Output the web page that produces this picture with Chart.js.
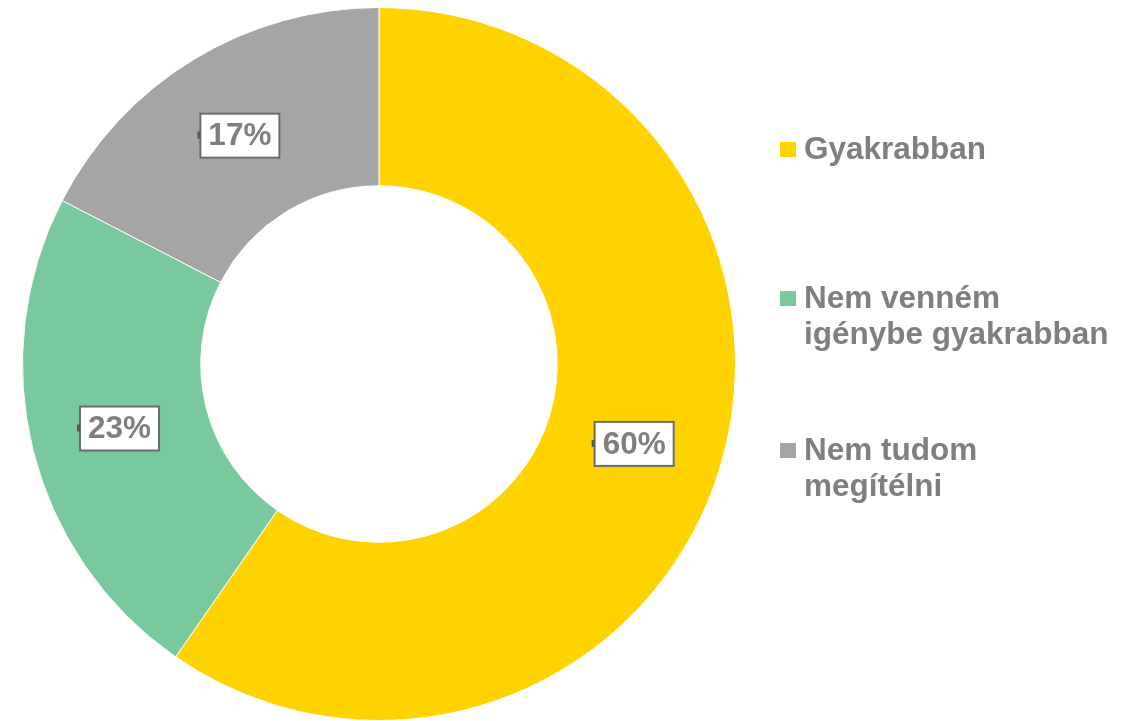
<!DOCTYPE html>
<html>
<head>
<meta charset="utf-8">
<script src="https://cdn.jsdelivr.net/npm/chart.js@4/dist/chart.umd.min.js"></script>
<style>
    html, body { margin: 0; padding: 0; background: #ffffff; }
    #wrap { width: 1139px; height: 721px; position: relative; }
</style>
</head>
<body>
<div id="wrap"><canvas id="donutChart"></canvas></div>
<script>
// ============ Data ============
const categories = ['Gyakrabban', 'Nem venném igénybe gyakrabban', 'Nem tudom megítélni'];
const legendLines = [['Gyakrabban'], ['Nem venném', 'igénybe gyakrabban'], ['Nem tudom', 'megítélni']];
const shares = [59.6, 22.9, 17.4];
const sliceColors = ['#FFD300', '#78C99E', '#A5A5A5'];

// ============ Style ============
const TEXT_COLOR = '#7F7F7F';
const FONT = 'bold 31.5px "Liberation Sans", Arial, sans-serif';

// ============ Plugins ============
// boxed percentage labels at the middle of each slice
const boxLabels = {
    id: 'boxLabels',
    afterDatasetsDraw(chart) {
        const { ctx } = chart;
        const meta = chart.getDatasetMeta(0);
        const total = shares.reduce((a, b) => a + b, 0);
        ctx.save();
        ctx.font = FONT;
        ctx.textAlign = 'center';
        ctx.textBaseline = 'middle';
        meta.data.forEach((arc, i) => {
            const { x, y } = arc.tooltipPosition();
            const text = Math.round(shares[i] / total * 100) + '%';
            const w = ctx.measureText(text).width + 16;
            const h = 44;
            ctx.fillStyle = '#ffffff';
            ctx.fillRect(x - w / 2, y - h / 2, w, h);
            ctx.lineWidth = 2;
            ctx.strokeStyle = '#6B6B6B';
            ctx.strokeRect(x - w / 2, y - h / 2, w, h);
            // small leader stub on the left edge
            ctx.fillStyle = '#595959';
            ctx.fillRect(x - w / 2 - 3, y - 4, 3, 7);
            ctx.fillStyle = TEXT_COLOR;
            ctx.fillText(text, x, y + 1);
        });
        ctx.restore();
    }
};

// legend at the right, with wrapped labels
const sideLegend = {
    id: 'sideLegend',
    afterDraw(chart, args, opts) {
        const { ctx } = chart;
        ctx.save();
        ctx.font = FONT;
        ctx.textAlign = 'left';
        ctx.textBaseline = 'alphabetic';
        legendLines.forEach((lines, i) => {
            const base = opts.baselines[i];
            ctx.fillStyle = sliceColors[i];
            ctx.fillRect(opts.x, base - 17, 16, 15);
            ctx.fillStyle = TEXT_COLOR;
            lines.forEach((line, j) => {
                ctx.fillText(line, opts.x + 24, base + j * opts.lineHeight);
            });
        });
        ctx.restore();
    }
};

// ============ Chart ============
const ctx = document.getElementById('donutChart').getContext('2d');
new Chart(ctx, {
    type: 'doughnut',
    data: {
        labels: categories,
        datasets: [{
            data: shares,
            backgroundColor: sliceColors,
            borderColor: '#ffffff',
            borderWidth: 1
        }]
    },
    options: {
        responsive: true,
        maintainAspectRatio: false,
        animation: false,
        cutout: '50%',
        layout: { padding: { left: 22, right: 403, top: 7, bottom: 0 } },
        plugins: {
            legend: { display: false },
            tooltip: { enabled: false },
            sideLegend: { x: 780, baselines: [159, 308, 460], lineHeight: 36 }
        }
    },
    plugins: [boxLabels, sideLegend]
});
</script>
</body>
</html>
